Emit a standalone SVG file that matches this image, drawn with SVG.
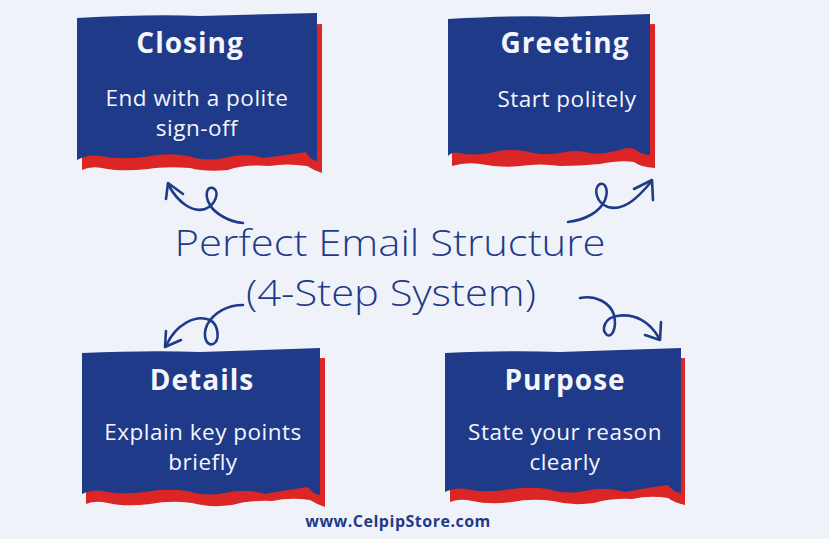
<svg xmlns="http://www.w3.org/2000/svg" width="829" height="539" viewBox="0 0 829 539">
<style>
.bg{fill:#eff3f9}
.blue{fill:#1f3a89}
.red{fill:#dc2626}
.title{font-family:"Open Sans","Liberation Sans",sans-serif;font-weight:700;font-size:28px;letter-spacing:1px;fill:#f4f6fb;text-anchor:middle}
.body{font-family:"Open Sans","Liberation Sans",sans-serif;font-weight:400;font-size:22.5px;letter-spacing:0.5px;fill:#f4f6fb;text-anchor:middle}
.head{font-family:"Open Sans","Liberation Sans",sans-serif;font-weight:300;font-size:36px;fill:#1f3a89;text-anchor:middle}
.foot{font-family:"Open Sans","Liberation Sans",sans-serif;font-weight:700;font-size:16px;letter-spacing:0.5px;fill:#1f3a89;text-anchor:middle}
.arr{fill:none;stroke:#1f3a89;stroke-width:2.6;stroke-linecap:round;stroke-linejoin:round}
</style>
<rect class="bg" x="0" y="0" width="829" height="539"/>

<g id="closing">
<path class="red" d="M82,30 L322,24 L322,173 Q315,171 307,166 Q285,163 270,166 Q245,164 228,170 Q205,172 190,168 Q165,166 148,169 Q120,172 102,168 Q90,166 82,170 Z"/>
<path class="blue" d="M77,18 Q150,14 200,16 L317,13 L317,161 Q310,160 306,152 Q280,156 262,158 Q245,152 225,158 Q205,162 188,156 Q165,152 145,157 Q120,160 100,156 Q88,154 77,160 Z"/>
<text class="title" x="190" y="53">Closing</text>
<text class="body" x="197" y="106">End with a polite</text>
<text class="body" x="197" y="136">sign-off</text>
</g>

<g id="greeting">
<path class="red" d="M452,30 L655,24 L655,168 Q640,167 634,162 Q620,160 600,164 Q580,166 560,166 Q540,163 520,166 Q500,168 480,164 Q465,162 452,166 Z"/>
<path class="blue" d="M448,19 Q520,15 560,17 L650,14 L650,155 Q640,154 636,150 Q630,146 620,150 Q600,155 590,153 Q575,149 560,153 Q540,156 525,151 Q505,148 490,153 Q470,156 460,153 Q452,151 448,156 Z"/>
<text class="title" x="565" y="53">Greeting</text>
<text class="body" x="567" y="107">Start politely</text>
</g>

<g id="details">
<path class="red" d="M86,365 L325,358 L325,507 Q318,505 310,500 Q290,497 272,501 Q250,500 232,505 Q210,508 192,503 Q170,500 150,504 Q125,507 108,503 Q95,500 86,504 Z"/>
<path class="blue" d="M82,353 Q150,350 200,352 L320,348 L320,495 Q313,494 308,487 Q285,490 265,494 Q245,488 225,493 Q205,497 188,491 Q165,488 145,492 Q120,495 103,491 Q92,489 82,494 Z"/>
<text class="title" x="202" y="390">Details</text>
<text class="body" x="203" y="440">Explain key points</text>
<text class="body" x="203" y="470">briefly</text>
</g>

<g id="purpose">
<path class="red" d="M450,365 L685,358 L685,505 Q675,503 668,498 Q650,495 632,499 Q612,498 594,503 Q572,506 553,501 Q532,498 512,502 Q490,505 472,501 Q460,498 450,502 Z"/>
<path class="blue" d="M445,353 Q510,350 560,352 L681,348 L681,493 Q673,492 668,485 Q645,488 625,492 Q605,486 585,491 Q565,495 548,489 Q525,486 505,490 Q482,493 466,489 Q455,487 445,492 Z"/>
<text class="title" x="565" y="390">Purpose</text>
<text class="body" x="565" y="440">State your reason</text>
<text class="body" x="565" y="470">clearly</text>
</g>

<g id="center">
<text class="head" x="390" y="256" textLength="431" lengthAdjust="spacingAndGlyphs">Perfect Email Structure</text>
<text class="head" x="391" y="306" textLength="290" lengthAdjust="spacingAndGlyphs">(4-Step System)</text>
</g>

<g id="connectors">
<path class="arr" d="M243,223 C230,222 215,214 210,205 C204,195 207,186 213,188 C220,191 216,205 205,209 C192,213 178,202 169,186"/>
<path class="arr" d="M166,199 L168,183 L183,194"/>
<path class="arr" d="M568,222 C585,220 600,212 605,200 C609,190 605,182 600,184 C593,188 596,203 608,207 C625,212 640,195 651,182"/>
<path class="arr" d="M634,189 L652,180 L653,200"/>
<path class="arr" d="M243,305 C228,305 214,312 207,325 C202,337 207,346 213,344 C220,341 219,325 210,320 C195,314 176,325 167,344"/>
<path class="arr" d="M166,331 L165,347 L181,340"/>
<path class="arr" d="M580,298 C595,295 610,302 614,315 C617,328 612,338 607,335 C601,330 604,318 617,316 C635,313 650,322 659,338"/>
<path class="arr" d="M661,322 L660,340 L645,335"/>
</g>

<text class="foot" x="398" y="527">www.CelpipStore.com</text>
</svg>
